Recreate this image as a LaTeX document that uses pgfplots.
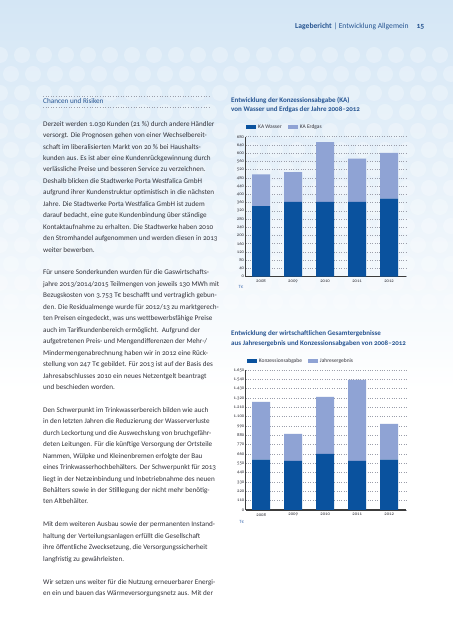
\documentclass[border=0pt]{standalone}
\usepackage{fontspec}
\setmainfont{Carlito}[Numbers=OldStyle]
\usepackage{pgfplots}
\pgfplotsset{compat=1.18}
\definecolor{kadark}{RGB}{10,82,158}
\definecolor{kalight}{RGB}{143,163,212}
\definecolor{titleblue}{RGB}{38,84,145}
\definecolor{bodytext}{RGB}{50,50,58}
\definecolor{gridgray}{RGB}{155,158,170}
\definecolor{bgblue}{RGB}{212,230,245}
\definecolor{axisgray}{RGB}{60,60,60}
\definecolor{tblue}{RGB}{70,115,180}

\pgfplotsset{kastyle/.style={
  scale only axis, width=160.5bp, height=140bp,
  xmin=-0.484, xmax=4.53, ymin=0,
  axis lines=left, axis line style={-},
  x axis line style={line width=1.2bp, axisgray},
  y axis line style={line width=0.6bp, axisgray},
  ybar stacked, bar width=18bp,
  xtick={0,...,4}, xticklabels={2008,2009,2010,2011,2012},
  major tick length=0pt,
  ymajorgrids, grid style={dotted, gridgray, line width=0.5bp},
  tick label style={font=\fontsize{4.7bp}{5bp}\selectfont, text=bodytext},
  yticklabel style={inner sep=1.2bp},
  xticklabel style={inner sep=0pt, yshift=-3bp},
  /pgf/number format/assume math mode=true,
  /pgf/number format/1000 sep={.},
  legend columns=2,
  legend style={draw=none, fill=none, inner sep=0pt,
    font=\fontsize{5.5bp}{6bp}\selectfont, text=bodytext,
    /tikz/every even column/.append style={column sep=4bp}},
  legend cell align=left,
  legend image code/.code={\fill[##1] (0bp,-1.7bp) rectangle (10bp,1.7bp);},
}}

\begin{document}
\begin{tikzpicture}[x=1bp,y=1bp]
\useasboundingbox (0,0) rectangle (453,640);
\fill[white] (0,0) rectangle (453,640);
\shade[top color=bgblue, bottom color=white] (0,250) rectangle (453,640);
\foreach \r in {0,...,13} {
  \foreach \c in {0,...,21} {
    \pgfmathsetmacro{\xx}{\c*22+mod(\r,2)*11}
    \pgfmathsetmacro{\yy}{585-\r*19}
    \fill[white, opacity=0.28] (\xx,\yy) circle (8);
  }
}

% header
\node[anchor=base east, inner sep=0, font=\fontsize{7.6bp}{9bp}\selectfont, text=titleblue]
  at (424.5,611.5) {\textbf{Lagebericht} | Entwicklung Allgemein\hspace{8bp}\textbf{15}};

% left column heading
\draw[gridgray, dotted, line width=0.6] (43,543.3) -- (210.7,543.3);
\draw[gridgray, dotted, line width=0.6] (43,533) -- (210.7,533);
\node[anchor=base west, inner sep=0, font=\fontsize{7.2bp}{9bp}\selectfont, text=titleblue]
  at (43,536) {Chancen und Risiken};

% body text (anchor at baseline of last line)
\node[anchor=base west, align=left, inner sep=0, text=bodytext,
      font=\fontsize{7.15bp}{11.45bp}\selectfont] at (43,44.4) {%
Derzeit werden 1.030 Kunden (21 \%) durch andere Händler\\
versorgt. Die Prognosen gehen von einer Wechselbereit-\\
schaft im liberalisierten Markt von 20 \% bei Haushalts-\\
kunden aus. Es ist aber eine Kundenrückgewinnung durch\\
verlässliche Preise und besseren Service zu verzeichnen.\\
Deshalb blicken die Stadtwerke Porta Westfalica GmbH\\
aufgrund ihrer Kundenstruktur optimistisch in die nächsten\\
Jahre. Die Stadtwerke Porta Westfalica GmbH ist zudem\\
darauf bedacht, eine gute Kundenbindung über ständige\\
Kontaktaufnahme zu erhalten. Die Stadtwerke haben 2010\\
den Stromhandel aufgenommen und werden diesen in 2013\\
weiter bewerben.\\[11.45bp]
Für unsere Sonderkunden wurden für die Gaswirtschafts-\\
jahre 2013/2014/2015 Teilmengen von jeweils 130 MWh mit\\
Bezugskosten von 3.753 T€ beschafft und vertraglich gebun-\\
den. Die Residualmenge wurde für 2012/13 zu marktgerech-\\
ten Preisen eingedeckt, was uns wettbewerbsfähige Preise\\
auch im Tarifkundenbereich ermöglicht.\ \ Aufgrund der\\
aufgetretenen Preis- und Mengendifferenzen der Mehr-/\\
Mindermengenabrechnung haben wir in 2012 eine Rück-\\
stellung von 247 T€ gebildet. Für 2013 ist auf der Basis des\\
Jahresabschlusses 2010 ein neues Netzentgelt beantragt\\
und beschieden worden.\\[11.45bp]
Den Schwerpunkt im Trinkwasserbereich bilden wie auch\\
in den letzten Jahren die Reduzierung der Wasserverluste\\
durch Leckortung und die Auswechslung von bruchgefähr-\\
deten Leitungen. Für die künftige Versorgung der Ortsteile\\
Nammen, Wülpke und Kleinenbremen erfolgte der Bau\\
eines Trinkwasserhochbehälters. Der Schwerpunkt für 2013\\
liegt in der Netzeinbindung und Inbetriebnahme des neuen\\
Behälters sowie in der Stilllegung der nicht mehr benötig-\\
ten Altbehälter.\\[11.45bp]
Mit dem weiteren Ausbau sowie der permanenten Instand-\\
haltung der Verteilungsanlagen erfüllt die Gesellschaft\\
ihre öffentliche Zwecksetzung, die Versorgungssicherheit\\
langfristig zu gewährleisten.\\[11.45bp]
Wir setzen uns weiter für die Nutzung erneuerbarer Energi-\\
en ein und bauen das Wärmeversorgungsnetz aus. Mit der};

% chart titles (anchor at baseline of second line)
\node[anchor=base west, align=left, inner sep=0, text=titleblue,
      font=\bfseries\fontsize{7bp}{9.5bp}\selectfont] at (231,528)
  {Entwicklung der Konzessionsabgabe (KA)\\von Wasser und Erdgas der Jahre 2008--2012};
\node[anchor=base west, align=left, inner sep=0, text=titleblue,
      font=\bfseries\fontsize{7bp}{9.5bp}\selectfont] at (231,294.5)
  {Entwicklung der wirtschaftlichen Gesamtergebnisse\\aus Jahresergebnis und Konzessionsabgaben von 2008--2012};

% chart 1
\begin{axis}[kastyle, at={(245.5bp,363.3bp)}, anchor=south west,
  ymax=680, ytick={0,40,...,680},
  legend style={at={(0,1)}, anchor=west, yshift=9.7bp, xshift=0.5bp}]
\addplot[fill=kadark, draw=none] coordinates {(0,343) (1,363) (2,363) (3,363) (4,379)};
\addplot[fill=kalight, draw=none] coordinates {(0,154) (1,145) (2,291) (3,210) (4,222)};
\legend{KA Wasser, KA Erdgas}
\end{axis}
\node[font=\fontsize{4.8bp}{5bp}\selectfont, text=tblue] at (241,353) {T€};

% chart 2
\begin{axis}[kastyle, at={(245.7bp,130bp)}, anchor=south west,
  ymax=1650, ytick={0,110,...,1650},
  legend style={at={(0,1)}, anchor=west, yshift=9bp, xshift=1bp}]
\addplot[fill=kadark, draw=none] coordinates {(0,593) (1,578) (2,660) (3,578) (4,593)};
\addplot[fill=kalight, draw=none] coordinates {(0,680) (1,318) (2,672) (3,955) (4,421)};
\legend{Konzessionsabgabe, Jahresergebnis}
\end{axis}
\node[font=\fontsize{4.8bp}{5bp}\selectfont, text=tblue] at (241.7,118) {T€};
\end{tikzpicture}
\end{document}
